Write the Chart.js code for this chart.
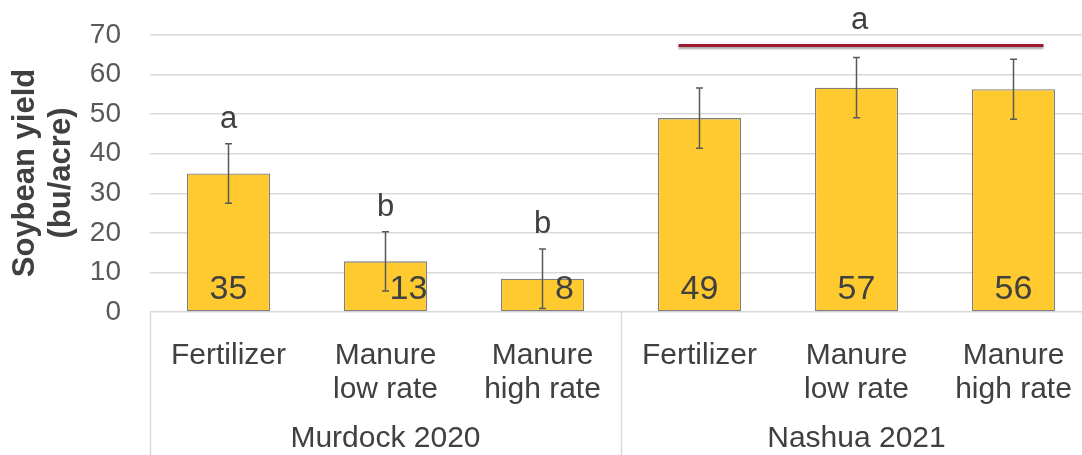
<!DOCTYPE html>
<html>
<head>
<meta charset="utf-8">
<script src="https://cdn.jsdelivr.net/npm/chart.js@4.4.1/dist/chart.umd.min.js"></script>
<style>
  html, body { margin: 0; padding: 0; background: #fff; overflow: hidden; }
  #wrap { width: 1092px; height: 455px; }
</style>
</head>
<body>
<div id="wrap"><canvas id="grafico" width="1092" height="455"></canvas></div>
<script>
// Dados do gráfico
const categorias = [
    ["Fertilizer"], ["Manure", "low rate"], ["Manure", "high rate"],
    ["Fertilizer"], ["Manure", "low rate"], ["Manure", "high rate"]
];
const grupos = ["Murdock 2020", "Nashua 2021"];
const produtividade = [35.0, 12.8, 8.4, 49.0, 56.7, 56.3];
const erroPadrao = [7.5, 7.5, 7.5, 7.6, 7.6, 7.6];
const letras = ["a", "b", "b", "", "", ""];
const letraGrupoNashua = "a";
const ticksY = [0, 10, 20, 30, 40, 50, 60, 70];

const corTexto = "#404040";
const fonte = "'Liberation Sans', Arial, sans-serif";

// Plugin que desenha barras de erro, rótulos, letras e os grupos do eixo x
const extras = {
    id: "extras",
    afterDatasetsDraw(chart, args, opts) {
        const ctx = chart.ctx;
        const x = chart.scales.x;
        const y = chart.scales.y;
        ctx.save();

        // barras de erro
        ctx.strokeStyle = "#595959";
        ctx.lineWidth = 1.5;
        produtividade.forEach((v, i) => {
            const px = x.getPixelForValue(i);
            const top = y.getPixelForValue(v + erroPadrao[i]);
            const bot = y.getPixelForValue(v - erroPadrao[i]);
            ctx.beginPath();
            ctx.moveTo(px, top); ctx.lineTo(px, bot);
            ctx.moveTo(px - 3.5, top); ctx.lineTo(px + 3.5, top);
            ctx.moveTo(px - 3.5, bot); ctx.lineTo(px + 3.5, bot);
            ctx.stroke();
        });

        // valores dentro das barras
        ctx.fillStyle = corTexto;
        ctx.textAlign = "center";
        ctx.textBaseline = "alphabetic";
        ctx.font = "34px " + fonte;
        produtividade.forEach((v, i) => {
            const px = x.getPixelForValue(i) + (opts.deslocamento[i] || 0);
            ctx.fillText(String(Math.round(v)), px, y.getPixelForValue(0) - 13);
        });

        // letras de significância
        ctx.font = "31px " + fonte;
        letras.forEach((l, i) => {
            if (!l) return;
            const top = y.getPixelForValue(produtividade[i] + erroPadrao[i]);
            ctx.fillText(l, x.getPixelForValue(i), top - 16);
        });

        // linha e letra do grupo Nashua
        const maxTopo = Math.max(...[3, 4, 5].map(i => produtividade[i] + erroPadrao[i]));
        const yLinha = y.getPixelForValue(maxTopo) - 12;
        ctx.save();
        ctx.shadowColor = "rgba(0,0,0,0.35)";
        ctx.shadowOffsetY = 2;
        ctx.shadowBlur = 2;
        ctx.strokeStyle = "#9E1B32";
        ctx.lineWidth = 3;
        ctx.beginPath();
        ctx.moveTo(x.getPixelForValue(3) - 21, yLinha);
        ctx.lineTo(x.getPixelForValue(5) + 30, yLinha);
        ctx.stroke();
        ctx.restore();
        ctx.fillText(letraGrupoNashua, (x.getPixelForValue(3) + x.getPixelForValue(5)) / 2 + 3, yLinha - 17);

        // separadores e nomes dos grupos
        ctx.strokeStyle = "#d9d9d9";
        ctx.lineWidth = 1.5;
        [-0.5, 2.5, 5.5].forEach(p => {
            const px = Math.round(x.getPixelForValue(p)) + 0.5;
            ctx.beginPath();
            ctx.moveTo(px, y.getPixelForValue(0));
            ctx.lineTo(px, chart.height);
            ctx.stroke();
        });
        ctx.font = "30px " + fonte;
        grupos.forEach((g, k) => {
            const cx = (x.getPixelForValue(k * 3) + x.getPixelForValue(k * 3 + 2)) / 2;
            ctx.fillText(g, cx, 447);
        });

        // título do eixo y
        ctx.font = "bold 31px " + fonte;
        ctx.translate(0, 173);
        ctx.rotate(-Math.PI / 2);
        ctx.fillText("Soybean yield", 0, 34);
        ctx.fillText("(bu/acre)", 0, 70);
        ctx.restore();
    }
};

new Chart(document.getElementById("grafico").getContext("2d"), {
    type: "bar",
    data: {
        labels: categorias,
        datasets: [{
            data: produtividade,
            backgroundColor: "#FFCA2F",
            borderColor: "#7F7F7F",
            borderWidth: 1.3,
            borderSkipped: false,
            barPercentage: 0.53,
            categoryPercentage: 1.0
        }]
    },
    options: {
        responsive: false,
        animation: false,
        layout: { padding: { left: 0, top: 35, right: 0, bottom: 0 } },
        plugins: {
            legend: { display: false },
            tooltip: { enabled: false },
            extras: { deslocamento: [0, 23, 22, 0, 0, 0] }
        },
        scales: {
            x: {
                grid: { display: false },
                border: { display: false },
                ticks: {
                    color: corTexto,
                    font: { family: fonte, size: 30, lineHeight: 1.13 },
                    padding: 19,
                    maxRotation: 0,
                    autoSkip: false
                },
                afterFit: scale => {
                    scale.height = 143;
                    scale.paddingLeft = 0;
                    scale.paddingRight = 0;
                }
            },
            y: {
                min: 0,
                max: 70,
                afterBuildTicks: scale => { scale.ticks = ticksY.map(v => ({ value: v })); },
                grid: { color: "#d9d9d9", lineWidth: 1.5, drawTicks: false },
                border: { display: false },
                ticks: {
                    color: "#595959",
                    font: { family: fonte, size: 28 },
                    padding: 29
                },
                afterFit: scale => {
                    scale.width = 150;
                    scale.paddingTop = 0;
                    scale.paddingBottom = 0;
                }
            }
        }
    },
    plugins: [extras]
});
</script>
</body>
</html>
